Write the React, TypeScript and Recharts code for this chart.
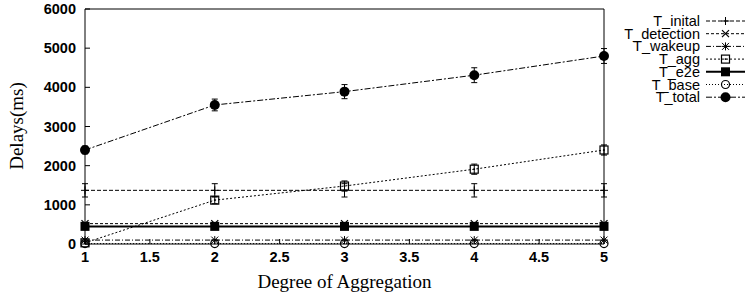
import React from 'react';
import { LineChart, Line, XAxis, YAxis, ErrorBar, Legend } from 'recharts';

// degree of aggregation (x)
const degrees = [1, 2, 3, 4, 5];

// delays in ms
const tInital = [1370, 1370, 1370, 1370, 1370];
const tInitalErr = [170, 170, 170, 170, 170];
const tDetection = [520, 520, 520, 520, 520];
const tWakeup = [100, 100, 100, 100, 100];
const tAgg = [30, 1120, 1480, 1910, 2400];
const tAggErr = [30, 90, 130, 130, 130];
const tE2e = [450, 450, 450, 450, 450];
const tBase = [10, 10, 10, 10, 10];
const tTotal = [2400, 3550, 3890, 4310, 4800];
const tTotalErr = [100, 150, 180, 190, 190];

const xTicks = [1, 1.5, 2, 2.5, 3, 3.5, 4, 4.5, 5];
const yTicks = [0, 1000, 2000, 3000, 4000, 5000, 6000];

const data = degrees.map((d, i) => ({
  degree: d,
  inital: tInital[i],
  initalErr: tInitalErr[i],
  detection: tDetection[i],
  wakeup: tWakeup[i],
  agg: tAgg[i],
  aggErr: tAggErr[i],
  e2e: tE2e[i],
  base: tBase[i],
  total: tTotal[i],
  totalErr: tTotalErr[i],
}));

const sans = '"Liberation Sans", Arial, sans-serif';
const serif = '"Liberation Serif", "Times New Roman", serif';

// gnuplot style point markers
const marker = (kind: string, cx: number, cy: number, key?: any) => {
  const s = '#000';
  switch (kind) {
    case 'plus':
      return (
        <g key={key}>
          <line x1={cx - 4} y1={cy} x2={cx + 4} y2={cy} stroke={s} />
          <line x1={cx} y1={cy - 4} x2={cx} y2={cy + 4} stroke={s} />
        </g>
      );
    case 'cross':
      return (
        <g key={key}>
          <line x1={cx - 3.5} y1={cy - 3.5} x2={cx + 3.5} y2={cy + 3.5} stroke={s} strokeWidth={1.2} />
          <line x1={cx - 3.5} y1={cy + 3.5} x2={cx + 3.5} y2={cy - 3.5} stroke={s} strokeWidth={1.2} />
        </g>
      );
    case 'star':
      return (
        <g key={key}>
          <line x1={cx - 4} y1={cy} x2={cx + 4} y2={cy} stroke={s} />
          <line x1={cx} y1={cy - 4} x2={cx} y2={cy + 4} stroke={s} />
          <line x1={cx - 3.5} y1={cy - 3.5} x2={cx + 3.5} y2={cy + 3.5} stroke={s} />
          <line x1={cx - 3.5} y1={cy + 3.5} x2={cx + 3.5} y2={cy - 3.5} stroke={s} />
        </g>
      );
    case 'osquare':
      return (
        <g key={key}>
          <rect x={cx - 4} y={cy - 4} width={8} height={8} fill="none" stroke={s} strokeWidth={1.2} />
          <rect x={cx - 0.8} y={cy - 0.8} width={1.6} height={1.6} fill={s} />
        </g>
      );
    case 'fsquare':
      return <rect key={key} x={cx - 4.5} y={cy - 4.5} width={9} height={9} fill={s} />;
    case 'ocircle':
      return <circle key={key} cx={cx} cy={cy} r={4} fill="none" stroke={s} strokeWidth={1.2} />;
    case 'fcircle':
    default:
      return <circle key={key} cx={cx} cy={cy} r={5} fill={s} />;
  }
};

const series = [
  { key: 'inital', name: 'T_inital', dash: '4 2', width: 1, shape: 'plus', err: 'initalErr' },
  { key: 'detection', name: 'T_detection', dash: '3 2', width: 1, shape: 'cross' },
  { key: 'wakeup', name: 'T_wakeup', dash: '5 2 1 2', width: 1, shape: 'star' },
  { key: 'agg', name: 'T_agg', dash: '2 2', width: 1, shape: 'osquare', err: 'aggErr' },
  { key: 'e2e', name: 'T_e2e', dash: undefined, width: 2, shape: 'fsquare' },
  { key: 'base', name: 'T_base', dash: '1 2', width: 1, shape: 'ocircle' },
  { key: 'total', name: 'T_total', dash: '6 2 2 2', width: 1, shape: 'fcircle', err: 'totalErr' },
];

const renderLegend = () => (
  <svg width={147} height={100} style={{ display: 'block' }}>
    {series.map((s, i) => {
      const y = 9 + i * 12.7;
      return (
        <g key={s.key}>
          <text x={100} y={y} dy="0.35em" textAnchor="end" fontFamily={sans} fontSize={14.5} fill="#000">
            {s.name}
          </text>
          <line x1={106} y1={y} x2={145} y2={y} stroke="#000" strokeWidth={s.width} strokeDasharray={s.dash} />
          {marker(s.shape, 125.5, y)}
        </g>
      );
    })}
  </svg>
);

const tickStyle = { fontFamily: sans, fontSize: 14.5, fontWeight: 'bold' as const, fill: '#000' };

const yLabel = () => (
  <text
    x={16}
    y={126}
    transform="rotate(-90 16 126)"
    textAnchor="middle"
    dominantBaseline="central"
    fontFamily={serif}
    fontSize={19}
    fill="#000"
  >
    Delays(ms)
  </text>
);

export default function App() {
  return (
    <div style={{ position: 'absolute', left: 0, top: 0, background: '#fff' }}>
      <LineChart width={747} height={297} data={data} margin={{ top: 8, right: 142, left: 0, bottom: 0 }}>
        <XAxis
          dataKey="degree"
          type="number"
          domain={[1, 5]}
          ticks={xTicks}
          tickSize={-5}
          tickMargin={13}
          height={53}
          stroke="#000"
          tick={tickStyle}
          label={{
            value: 'Degree of Aggregation',
            position: 'insideBottom',
            offset: 9,
            style: { fontFamily: serif, fontSize: 19, fill: '#000' },
          }}
        />
        <XAxis
          xAxisId="top"
          dataKey="degree"
          type="number"
          orientation="top"
          domain={[1, 5]}
          ticks={xTicks}
          tickSize={-5}
          height={1}
          stroke="#000"
          tick={false}
        />
        <YAxis
          type="number"
          domain={[0, 6000]}
          ticks={yTicks}
          tickSize={-5}
          tickMargin={14}
          width={85}
          stroke="#000"
          tick={tickStyle}
          label={yLabel}
        />
        <YAxis
          yAxisId="right"
          type="number"
          orientation="right"
          domain={[0, 6000]}
          ticks={yTicks}
          tickSize={-5}
          width={1}
          stroke="#000"
          tick={false}
        />
        <Legend
          content={renderLegend}
          layout="horizontal"
          verticalAlign="middle"
          wrapperStyle={{ left: 600, top: 12, width: 147 }}
        />
        {series.map((s) => (
          <Line
            key={s.key}
            dataKey={s.key}
            name={s.name}
            type="linear"
            stroke="#000"
            strokeWidth={s.width}
            strokeDasharray={s.dash}
            isAnimationActive={false}
            dot={(p: any) => marker(s.shape, p.cx, p.cy, `${s.key}-${p.index}`)}
            activeDot={false}
          >
            {s.err ? (
              <ErrorBar dataKey={s.err} width={3} stroke="#000" strokeWidth={1} direction="y" isAnimationActive={false} />
            ) : null}
          </Line>
        ))}
      </LineChart>
    </div>
  );
}
